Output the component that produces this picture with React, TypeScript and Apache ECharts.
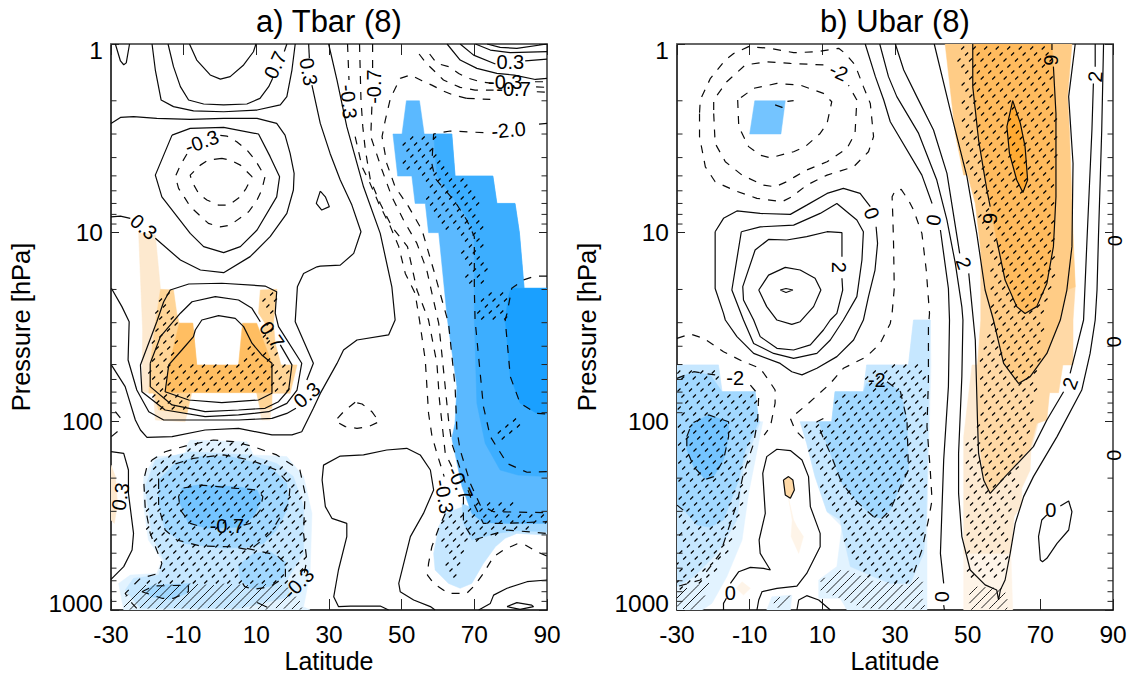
import React, { useEffect, useRef } from "react";
import * as echarts from "echarts";

// All contour and shading outlines are flat lists: latitude, log10(pressure hPa), latitude, log10(pressure hPa), ...
const latitudeTicks = [-30, -10, 10, 30, 50, 70, 90];
const minorPressures = [2, 3, 4, 5, 6, 7, 8, 9, 20, 30, 40, 50, 60, 70, 80, 90, 200, 300, 400, 500, 600, 700, 800, 900];
const panelTitles = ["a) Tbar (8)", "b) Ubar (8)"];

const tbarSolid = [
  [-28.8, 0, -27.4, 0.09, -26.5, 0.11, -25.8, 0.1, -24.9, 0],
  [-18.7, 0, -17.8, 0.138, -16.2, 0.297, -12.8, 0.332, -7.3, 0.354, 1, 0.359, 10.2, 0.35, 16.6, 0.323, 18.4, 0.279, 19.8, 0.138, 20.7, 0],
  [-14.3, 0, -12.8, 0.12, -10.9, 0.226, -8.65, 0.297, -4.5, 0.318, 1, 0.323, 7.4, 0.318, 11, 0.288, 13.4, 0.226, 14.5, 0.182],
  [17.7, 0.04, 18.4, 0],
  [-8.4, 0, -6.4, 0.085, -2.7, 0.164, 0.1, 0.186, 2.8, 0.173, 6.5, 0.111, 9.2, 0.041, 9.9, 0],
  [-30, 0.421, -27.4, 0.389, -23.8, 0.385, -17.4, 0.394, -8.2, 0.4, 1, 0.394, 10.2, 0.394, 15.6, 0.421, 17.9, 0.483, 19.3, 0.58, 20.4, 0.686, 20.2, 0.774, 18.4, 0.898, 13.8, 1.021, 8.3, 1.127, 1, 1.212, -5.4, 1.198, -10.9, 1.145, -17.8, 1.03],
  [-24.7, 0.924, -27.4, 0.912, -30, 0.916],
  [-13.2, 0.483, -17.8, 0.695, -16, 0.81, -8.2, 1.004, -4.5, 1.074, 1, 1.106, 5.6, 1.074, 10.2, 0.986, 15.6, 0.81, 16.4, 0.703, 13.8, 0.597, 10.6, 0.477, 1, 0.442, -8.2, 0.447, -13.2, 0.483],
  [27.6, 0.78, 26.5, 0.845, 28, 0.88, 30.1, 0.862, 29, 0.81, 27.6, 0.78],
  [24.4, 0, 24.6, 0.076],
  [25.3, 0.218, 27.6, 0.421, 30.3, 0.58, 33.1, 0.721, 36.3, 0.854, 38.8, 0.995, 36.8, 1.11, 33.1, 1.172, 27.6, 1.177, 26.7, 1.181, 23, 1.216, 21.3, 1.287, 20.7, 1.472, 25.7, 1.692, 23.9, 1.781],
  [20.9, 1.931, 18.4, 1.958, 14.3, 1.984, 5.1, 1.993, -4.1, 1.993, -15.5, 1.993, -19.6, 1.949, -22.9, 1.834, -25.3, 1.675, -25, 1.472, -27, 1.392, -29.9, 1.295],
  [29.9, 0, 32.2, 0.191, 34.9, 0.438, 39.5, 0.757, 44.1, 1.004, 47.3, 1.287, 48.2, 1.463, 46.4, 1.542, 37.7, 1.569, 34, 1.622, 32.2, 1.693, 27.6, 1.852, 25.7, 1.931, 22.5, 2.055, 19.8, 2.072, 14.3, 2.072, 5.1, 2.037, -4.1, 2.046, -13.2, 2.081, -20.1, 2.085, -21.9, 2.046, -23.3, 1.993, -26.1, 1.816, -29.9, 1.701],
  [-17.4, 1.472, -15.5, 1.366, -13.7, 1.304, -8.6, 1.272, 0.5, 1.268, 12.4, 1.283, 15.6, 1.313, 15.2, 1.427, 16.1, 1.498, 22.5, 1.692, 21.2, 1.834, 18.4, 1.905, 13.4, 1.949, 5.1, 1.966, -4.1, 1.975, -15.1, 1.94, -21.5, 1.843, -21.9, 1.701, -17.4, 1.472],
  [-19.2, 1.692, -16.4, 1.551, -10.9, 1.427, -7.7, 1.366, -1.3, 1.339, 5.1, 1.357, 8.8, 1.401, 11.1, 1.472],
  [16.6, 1.595, 19.8, 1.701, 18.9, 1.834, 16.1, 1.896, 12.4, 1.931, 5.1, 1.94, -4.1, 1.949, -13.2, 1.913, -19.2, 1.816, -19.2, 1.692],
  [-6.8, 1.516, -5, 1.463, -0.4, 1.44, 4.2, 1.454, 6.5, 1.498, 8.8, 1.586, 11.5, 1.648, 14.3, 1.692, 14.3, 1.851, 10.6, 1.887, 0.5, 1.901, -8.6, 1.887, -15.1, 1.843, -14.1, 1.701, -10.5, 1.622, -7.3, 1.551, -6.8, 1.516],
  [-30, 2.161, -26.5, 2.17, -25.2, 2.258, -25.2, 2.382, -23.8, 2.594, -24.2, 2.682, -26.5, 2.77, -30, 2.838],
  [46.4, 3, 44.1, 2.979, 35.9, 2.979, 32.6, 2.982, 31.3, 2.93, 32.6, 2.788, 34.9, 2.611, 34.9, 2.541, 30.8, 2.514, 29, 2.452, 28.1, 2.311, 28.5, 2.232, 33.1, 2.184, 39.5, 2.178, 45.9, 2.152, 51.4, 2.143, 55.1, 2.178, 57.9, 2.258, 58.8, 2.364, 56, 2.488, 52.4, 2.611, 49.2, 2.859, 49.6, 2.903, 53.3, 2.947, 57.9, 2.982, 59.2, 3],
  [71.2, 3, 74.4, 2.965, 75.3, 2.921, 79, 2.885, 84.5, 2.85, 90, 2.841],
  [79, 2.982, 81.7, 2.961, 85.8, 2.974, 86.3, 2.982, 82.6, 2.997, 79, 2.982],
  [73.5, 0, 77.1, 0.018, 81.7, 0.023, 90, 0],
  [70.3, 0, 74.4, 0.032, 79.9, 0.046, 90, 0.04],
  [66.1, 0, 69.8, 0.059, 75.8, 0.106],
  [84, 0.089, 90, 0.08],
  [62.5, 0, 66.1, 0.085, 70.7, 0.129, 76.2, 0.156, 81, 0.165, 86.8, 0.188, 90, 0.182],
  [10.2, 2.96, 13, 2.985],
];

const tbarDashed = [
  [-9.1, 0.583, -10.9, 0.642, -12.3, 0.703, -11.4, 0.765, -9.6, 0.818, -8.2, 0.862, -3.2, 0.951, 0.1, 0.969, 2.8, 0.96, 7.9, 0.889, 10.2, 0.827, 11.5, 0.774, 12.4, 0.703, 9.7, 0.615, 7.4, 0.562, 4.6, 0.518, 1.9, 0.488, -0.4, 0.483],
  [0.5, 0.606, -3.2, 0.615, -5.4, 0.642, -8.2, 0.695, -7.7, 0.73, -5.9, 0.792, -3.6, 0.827, -0.4, 0.854, 2.4, 0.854, 5.6, 0.81, 7.2, 0.765, 8.8, 0.703, 5.6, 0.642, 2.8, 0.615, 0.5, 0.606],
  [37.2, 1.899, 34, 1.949, 31.7, 1.998, 34.5, 2.028, 37.7, 2.037, 40.9, 2.028, 43.8, 2.002, 41.8, 1.949, 39.1, 1.908, 37.2, 1.899],
  [35.1, 0, 35.5, 0.191],
  [37.2, 0.491, 39.1, 0.651, 40.9, 0.721, 43.7, 0.845, 46.9, 0.968, 49.2, 1.074, 51, 1.216, 53.7, 1.322, 54.9, 1.463, 56.5, 1.675, 57.4, 1.958, 58.3, 2.073, 59.7, 2.17, 61.7, 2.293],
  [62, 2.488, 60.2, 2.567, 58.3, 2.665, 57.4, 2.753, 57.1, 2.815, 58.8, 2.859, 62.9, 2.912, 67.9, 2.912, 70.2, 2.868, 72.5, 2.806, 75.3, 2.717, 78, 2.682, 81.7, 2.65, 84, 2.655, 87.2, 2.691, 90, 2.714],
  [38.4, 0, 38.8, 0.297, 39.3, 0.438, 40, 0.562, 41.4, 0.721, 44.1, 0.845, 47.3, 0.968, 51.6, 1.074, 54.2, 1.304, 57.4, 1.463, 59.7, 1.693, 60.4, 1.887, 61.1, 2.011, 62, 2.17, 63.8, 2.24],
  [67, 2.399, 67, 2.541, 69.8, 2.629, 79, 2.576, 90, 2.594],
  [42, 0, 42, 0.138],
  [41.8, 0.332, 41.5, 0.491, 44.6, 0.668, 47.3, 0.81, 50.5, 0.933, 54.2, 1.057, 56.9, 1.198, 60.2, 1.481, 61.7, 1.763, 62.9, 1.993, 63.8, 2.117, 65.9, 2.24, 68.9, 2.399, 72.5, 2.541, 78, 2.541, 90, 2.532],
  [67.9, 0.288, 64.3, 0.271, 61.4, 0.249, 58.3, 0.218, 55.6, 0.195, 52.4, 0.164, 49.6, 0.182, 46.9, 0.288, 45.5, 0.403, 44.6, 0.491, 45.9, 0.633, 48.2, 0.757, 51.9, 0.862, 55.6, 0.986, 58.8, 1.198, 62.9, 1.481, 64.7, 1.816, 65.2, 2.046, 66.1, 2.152, 68.9, 2.329, 71.6, 2.444, 75.3, 2.479, 90, 2.484],
  [67.9, 0.288, 74.4, 0.294],
  [87.2, 0.253, 90, 0.256],
  [57.7, 0.053, 59.7, 0.103, 62.9, 0.12, 65.7, 0.156, 68, 0.179, 71.6, 0.2, 75.3, 0.209],
  [86.7, 0.2, 90, 0.2],
  [54.8, 0.053, 56.8, 0.103, 59.2, 0.147, 61.5, 0.191, 66.1, 0.23, 70.2, 0.244, 75.3, 0.244],
  [87, 0.227, 90, 0.23],
  [90, 0.421, 86.7, 0.426],
  [72.5, 0.47, 63.4, 0.461, 58.8, 0.477, 58.3, 0.633, 59.2, 0.712, 64.7, 0.836, 67.9, 0.933, 70, 1.021, 70, 1.304, 70.2, 1.463, 72.5, 1.922, 74.4, 2.081, 79, 2.223, 84.5, 2.27, 90, 2.267],
  [90, 1.23, 86.7, 1.23, 83.5, 1.251, 80.3, 1.295, 79, 1.428, 78.5, 1.463, 79.9, 1.763, 82.6, 1.904, 87.2, 1.958, 90, 1.961],
  [-22.9, 2.991, -24.2, 2.965, -26.1, 2.912, -21.9, 2.832, -16.9, 2.806, -16, 2.753, -19.2, 2.594, -20.6, 2.452, -21, 2.311, -20.1, 2.24, -18.7, 2.205, -15.1, 2.161, -8.7, 2.126, -1.8, 2.099, 3.7, 2.108, 9.2, 2.134, 15.6, 2.178, 22, 2.258, 23.4, 2.382, 23, 2.594, 23.9, 2.735, 23, 2.824],
  [-16.9, 2.346, -16.9, 2.293, -14.6, 2.24, -7.3, 2.196, 1, 2.178, 8.3, 2.205, 15.6, 2.258, 19.3, 2.338, 18.9, 2.435, 13.8, 2.594, 8.3, 2.682, 3.7, 2.665, -5.4, 2.661, -11.9, 2.629, -15.1, 2.576, -16.9, 2.452, -16.9, 2.346],
  [6.5, 2.55, 8.3, 2.541, 11.1, 2.47, 11.8, 2.399, 10.2, 2.364, 4.6, 2.355, -5.4, 2.338, -10.5, 2.355, -11.4, 2.399, -10.9, 2.47, -8.2, 2.541, -4.5, 2.562],
  [7.4, 2.673, 15.6, 2.709, 18, 2.753, 18, 2.824, 13.8, 2.876, 9.2, 2.891, 6.8, 2.876, 5.1, 2.824],
  [-21.5, 2.903, -18.3, 2.873, -8.7, 2.868, -8.7, 2.903, -12.8, 2.938, -16, 2.938, -21.5, 2.903],
  [-28.8, 1.949, -27, 1.993],
  [-29.9, 2.081, -27.7, 2.046],
];

const ubarSolid = [
  [-19.5, 0.995, -17.2, 0.924, -13.5, 0.885, -7.1, 0.898, 1.2, 0.903, 5.7, 0.854, 11.3, 0.792, 15.8, 0.765, 20.4, 0.792, 23.2, 0.862],
  [24.8, 0.969, 25.2, 1.057, 24.5, 1.198, 22.7, 1.339, 21.3, 1.463, 18.6, 1.569, 14, 1.657, 8.5, 1.719, 4.4, 1.754, 1.6, 1.737, -1.6, 1.693, -8.9, 1.64, -13.5, 1.551, -16.7, 1.463, -17.2, 1.428, -19.5, 1.296, -19.5, 0.995],
  [-12.3, 0.995, -7.1, 0.969, 2.1, 0.96, 9.4, 0.898, 14, 0.845, 19.5, 0.933, 21.3, 0.995, 20.9, 1.145, 19.5, 1.339, 15.8, 1.463, 12.2, 1.569, 8.5, 1.64, 2.1, 1.666, -3.4, 1.64, -8.9, 1.587, -11.7, 1.463, -14.9, 1.304, -12.3, 0.995],
  [15.4, 1.127, 15.4, 1, 11.3, 0.995, 5.7, 1.021, 0.2, 1.039, -4.8, 1.036, -8.5, 1.092, -11.9, 1.286, -11.7, 1.357, -8.9, 1.463, -7.1, 1.551, -2.5, 1.613, 2.1, 1.622, 6.7, 1.595, 10.3, 1.516, 12.2, 1.463, 14, 1.428, 15.6, 1.304, 15.4, 1.242],
  [-7.5, 1.304, -4.8, 1.225, -0.2, 1.184, 3.9, 1.198, 8, 1.242, 9.6, 1.304, 7.6, 1.392, 3.9, 1.472, 1.6, 1.486, -2.5, 1.463, -5.3, 1.392, -7.5, 1.304],
  [-1.6, 1.304, 0, 1.296, 1.9, 1.304, 0, 1.317, -1.6, 1.304],
  [21.8, 0, 24.6, 0.173, 26.9, 0.297, 28.7, 0.412, 37.4, 0.695, 40.2, 0.845],
  [42.5, 0.986, 44.7, 1.296, 45, 1.463, 44.7, 1.816, 43.4, 2.205, 42.5, 2.7, 43.4, 2.859],
  [43.4, 2.974, 43.6, 3],
  [25.8, 0, 28.2, 0.173, 30.5, 0.279, 36.5, 0.474, 41.5, 0.721, 44.3, 0.933, 46.6, 1.163, 48.4, 1.393, 48.7, 1.463, 48.4, 1.763, 47.5, 2.17, 47.5, 2.382, 48.4, 2.611, 50.7, 2.788, 54.8, 2.867, 58, 2.894, 58.5, 2.947, 59, 2.894, 60.3, 2.841, 61.7, 2.7, 63.1, 2.541, 65.4, 2.399, 68.1, 2.293, 74.6, 2.081, 81.4, 1.834, 83.7, 1.64, 85.1, 1.463, 85.6, 1.304, 86, 1.021, 86.9, 0.456, 87.4, 0],
  [30.1, 0, 32.4, 0.138, 36, 0.279, 40.6, 0.456, 44.3, 0.686, 47.8, 1.11],
  [50.3, 1.216, 52.1, 1.569, 52.7, 1.993, 53, 2.17, 54.4, 2.311, 56.2, 2.382, 60.3, 2.293, 68.1, 2.134, 71.8, 1.993, 76.4, 1.843],
  [78.2, 1.746, 79.6, 1.64, 81.9, 1.463, 82.8, 1.057, 84.2, 0.456, 84.6, 0.209],
  [85.1, 0.12, 85.1, 0],
  [40.8, 0, 45.2, 0.35, 49.8, 0.703, 52.5, 1.004, 54.8, 1.304, 57.1, 1.463, 59.9, 1.693, 64, 1.799, 67.2, 1.763, 71.8, 1.64, 75.5, 1.463, 77.3, 1.304, 78.7, 1.074, 79, 0.633, 77.8, 0.279, 79.6, 0],
  [51.4, 0, 51.4, 0.226, 53, 0.509, 55.3, 0.774, 56.2, 0.862],
  [58, 1.039, 60.3, 1.251, 63.5, 1.392, 65.8, 1.428, 69, 1.392, 71.8, 1.269, 73.6, 1.074, 74.3, 0.81, 74.3, 0.368, 73.6, 0.12],
  [73.2, 0.032, 73.2, 0],
  [62.4, 0.3, 60.8, 0.438, 61.5, 0.58, 63.5, 0.721, 65.2, 0.787, 66.5, 0.721, 65.8, 0.544, 64.5, 0.421, 62.4, 0.3],
  [71.8, 2.496, 70.4, 2.523, 69.5, 2.611, 70, 2.735, 70.6, 2.744, 71.8, 2.726, 74.6, 2.647, 77.8, 2.576, 78.7, 2.479, 77.8, 2.422, 75.5, 2.449],
  [-17.2, 3, -17.2, 2.965, -16.4, 2.938],
  [-15.3, 2.859, -13, 2.797, -9.8, 2.774, -6.2, 2.779, -4.3, 2.788, -7.1, 2.7, -7.4, 2.629, -5.7, 2.488, -6.4, 2.276, -5.3, 2.187, -2.5, 2.148, 1.2, 2.155, 4.4, 2.205, 6.2, 2.293, 6.7, 2.452, 9.4, 2.594, 9.4, 2.665, 5.7, 2.806, 3, 2.873, -2.5, 2.885, -6.6, 2.903, -7.5, 2.947, -8, 3],
  [-0.7, 2.311, 0.7, 2.293, 1.9, 2.311, 2.3, 2.364, 1.2, 2.408, -0.2, 2.39, -0.7, 2.311],
  [3, 3, 3.5, 2.947, 5.7, 2.924, 9, 2.947, 12.2, 3],
];

const ubarDashed = [
  [-23.8, 0.368, -23.8, 0.491, -22.2, 0.651, -19.5, 0.73, -14, 0.778, -8, 0.818, -1.1, 0.836, 1.6, 0.81, 5.7, 0.748, 11.3, 0.695, 18.6, 0.651, 22.7, 0.571, 24.1, 0.491, 23.2, 0.315, 21.3, 0.226, 19, 0.111, 16.3, 0.05, 14.5, 0.023, 8.5, 0.041, 2.1, 0.046, -4.3, 0.023, -10.3, 0.014, -14.4, 0.05, -16.7, 0.085, -20.8, 0.182, -23.6, 0.297, -23.8, 0.368],
  [-19.9, 0.368, -19.5, 0.527, -16.7, 0.624, -12.1, 0.695, -6.2, 0.748, -3, 0.757, 0.2, 0.73, 2.5, 0.703, 5.7, 0.668, 11.3, 0.624, 16.8, 0.553, 19, 0.474, 19.5, 0.297, 17.2, 0.218],
  [10.3, 0.111, 1.2, 0.103, -5.3, 0.094, -11.2, 0.111, -16.3, 0.2, -19.9, 0.297, -19.9, 0.368],
  [-13.3, 0.297, -13, 0.438, -10.3, 0.544, -7.1, 0.589, -4.3, 0.603, 2.1, 0.571, 5.3, 0.544, 9.4, 0.474, 11.3, 0.421, 12.6, 0.306, 10.3, 0.262, 3.9, 0.218, -2.5, 0.209, -8.9, 0.235, -13.3, 0.297],
  [-3, 0.323, -1.1, 0.336, -0.2, 0.306, 2.1, 0.3],
  [-30, 1.56, -26.3, 1.537, -22.7, 1.56, -17.2, 1.631, -11.7, 1.684, -7.1, 1.719, -4.8, 1.781, -3, 1.834, -3, 1.904, -4.3, 2.028, -6, 2.073],
  [4.8, 2.09, 2.5, 2.046, 1.2, 1.984, 6.2, 1.904, 12.2, 1.799, 15.8, 1.719, 22.2, 1.657, 25.9, 1.587, 28.7, 1.481, 29.2, 1.428, 29.8, 1.295, 29.6, 1.057, 29.4, 0.915, 29.2, 0.81, 30.1, 0.774, 31.7, 0.771, 33.7, 0.827, 35.1, 0.88, 37.4, 1.004, 38.6, 1.198, 39.5, 1.428, 39.2, 1.498, 39.2, 1.781, 38.8, 2.028, 39.7, 2.258, 40.2, 2.417, 39.2, 2.523, 37.4, 2.682, 35.1, 2.806],
  [-30, 1.772, -25.4, 1.737, -19.5, 1.754],
  [-9.8, 1.808, -7.5, 1.861, -7.8, 1.993, -8.9, 2.117, -11.7, 2.276, -13.5, 2.435, -18.1, 2.7, -23.6, 2.841, -30, 2.876],
  [-27.3, 2.081, -25.9, 2.011, -21.3, 1.966, -15.8, 2.002, -15.8, 2.081, -17.2, 2.205, -19.9, 2.293, -22.2, 2.308, -25.4, 2.24, -27.3, 2.152, -27.3, 2.081],
  [-30, 2.444, -27.7, 2.48],
  [27.8, 1.79, 31.5, 1.843, 33.3, 1.993, 33.7, 2.258, 31.5, 2.346, 28.7, 2.47, 26.4, 2.514, 24.1, 2.506, 19.5, 2.426, 15.4, 2.329, 12.2, 2.17, 10.3, 2.09, 8.5, 2.002, 11.3, 1.975],
];

const tbarWarmPale = [
  [-22.4, 1, -17.8, 1.012, -16.4, 1.295, -17.8, 1.48, -19.2, 1.701, -19.2, 1.851, -21.5, 1.843, -21.3, 1.516],
  [-18.3, 1.851, -17.8, 1.993, -9.6, 2.002, -7.7, 1.851],
  [10.1, 1.848, 11.5, 1.993, 13.8, 1.993, 14.3, 1.851],
  [-30, 2.232, -28.8, 2.293, -28.2, 2.435, -29.1, 2.541, -30, 2.523],
];
const tbarWarmMid = [
  [-16.4, 1.3, -12.8, 1.304, -11.9, 1.427, -11.2, 1.48, -7.5, 1.48, -6.4, 1.701, -14.1, 1.701, -15.1, 1.848, -19.6, 1.851, -19.2, 1.692, -17.8, 1.48],
  [11.1, 1.304, 15.7, 1.3, 14.7, 1.48, 15.2, 1.586, 16.8, 1.701, 21.2, 1.701, 19.3, 1.851, 14.3, 1.851, 14.3, 1.692, 10.1, 1.586, 12.4, 1.48, 10.6, 1.427],
  [-18.3, 1.848, -16.9, 1.94, -9.1, 1.957, -7.9, 1.848],
  [10.1, 1.848, 11.1, 1.931, 14.3, 1.931, 14.3, 1.848],
];
const tbarWarmStrong = [[-11.2, 1.48, -7.5, 1.48, -6.4, 1.701, 5.1, 1.701, 6.2, 1.48, 10.1, 1.48, 14.3, 1.692, 14.3, 1.848, -15.1, 1.848, -14, 1.701]];
const tbarCool1 = [[-9.1, 2.126, -8.2, 2.099, 7.4, 2.108, 9.2, 2.178, 18.4, 2.187, 23, 2.293, 25.3, 2.488, 24.8, 2.806, 23, 2.983, 24.8, 3, -26.5, 3, -27.9, 2.859, -24.7, 2.815, -17.4, 2.806, -16, 2.735, -19.7, 2.629, -21, 2.452, -21, 2.293, -17.8, 2.187, -9.6, 2.178]];
const tbarCool2 = [
  [-20.6, 2.346, -17.8, 2.205, -8.2, 2.161, 8.3, 2.178, 15.6, 2.223, 20.2, 2.293, 23, 2.452, 23, 2.7, 18.4, 2.841, 19.3, 2.93, 5.6, 2.991, -21.9, 2.991, -26.1, 2.894, -23.8, 2.832, -16.9, 2.815, -15.5, 2.735, -18.7, 2.611],
  [62, 2.488, 60.2, 2.559, 58.8, 2.7, 59.2, 2.788, 62.9, 2.859, 66.1, 2.885, 69.3, 2.859, 72.5, 2.753, 75.8, 2.665, 78.5, 2.62, 81.7, 2.594, 90, 2.603, 90, 2.505, 67, 2.452],
];
const tbarCool3 = [
  [-16.9, 2.311, -11.9, 2.214, -5.4, 2.187, 2.8, 2.187, 13.8, 2.24, 18.4, 2.329, 18.9, 2.452, 15.6, 2.576, 12, 2.647, 7.4, 2.668, 1, 2.673, -10, 2.647, -15.1, 2.576, -16.9, 2.435],
  [5.1, 2.762, 9.2, 2.7, 13.8, 2.691, 18, 2.744, 17.5, 2.824, 13.8, 2.876, 8.3, 2.885, 5.6, 2.841],
  [-21, 2.894, -18.3, 2.868, -8.2, 2.859, -9.1, 2.912, -13.7, 2.944, -19.2, 2.93],
  [66.6, 2.435, 67, 2.541, 69.3, 2.629, 76.2, 2.594, 81.7, 2.58, 90, 2.585, 90, 2.505, 70.7, 2.47],
];
const tbarCool4 = [[-11.4, 2.417, -10.5, 2.355, -6.4, 2.338, 4.6, 2.346, 10.2, 2.364, 11.5, 2.417, 9.2, 2.505, 5.6, 2.562, -3.6, 2.567, -8.7, 2.541]];
const tbarCool5 = [[51.3, 0.301, 54.9, 0.301, 56.2, 0.477, 63.8, 0.477, 64.7, 0.7, 75.1, 0.7, 76.2, 0.845, 81.2, 0.845, 82.4, 1, 83.7, 1.295, 90, 1.295, 90, 2.541, 79, 2.541, 72.5, 2.537, 69.3, 2.488, 66.6, 2.346, 63.8, 2.09, 64.7, 2.011, 65.2, 1.816, 62.6, 1.463, 60.2, 1, 57.4, 1, 56.5, 0.845, 53.7, 0.845, 52.8, 0.7, 48.9, 0.7, 47.6, 0.477, 50.1, 0.477]];
const tbarCool6 = [[58.8, 0.477, 63.8, 0.477, 64.7, 0.7, 75.1, 0.7, 76.2, 0.845, 81.2, 0.845, 82.4, 1, 83.7, 1.295, 90, 1.295, 90, 2.293, 82, 2.285, 77.1, 2.258, 73, 2.117, 70.7, 1.904, 70, 1.463, 70, 1.021, 67.9, 0.916, 59.7, 0.7]];
const tbarCool7 = [[80.1, 1.295, 90, 1.295, 90, 1.961, 87.2, 1.958, 82.6, 1.904, 79.9, 1.763, 78.5, 1.463, 79.4, 1.339]];

const ubarWarm0 = [
  [48.9, 2.7, 48.9, 3, 62.4, 3, 61.9, 2.7],
  [-12.1, 2.85, -9.8, 2.885, -11.7, 2.921, -13.7, 2.885],
  [0.7, 2.408, 2.1, 2.523, 3, 2.558, 4.8, 2.611, 3.5, 2.7, 1.4, 2.611, 1.7, 2.523],
];
const ubarWarm1 = [[48.9, 2.7, 61.9, 2.7, 62.8, 2.505, 64.9, 2.444, 64.9, 2.355, 67.2, 2.258, 67.4, 2.161, 69.5, 2.002, 71.3, 1.993, 72.5, 1.852, 74.6, 1.701, 51.2, 1.701, 48.9, 2.081]];
const ubarWarm2 = [
  [53.6, 1.074, 53.6, 1.463, 52.7, 1.701, 52.7, 1.993, 54.4, 2.311, 56.2, 2.382, 60.3, 2.293, 67.2, 2.143, 69, 2.011, 71.8, 1.993, 72.5, 1.848, 75, 1.848, 76.2, 1.701, 79, 1.701, 79, 1.463, 79.6, 1.287, 78.7, 1.004],
  [-0.7, 2.311, 0.7, 2.293, 1.9, 2.311, 2.3, 2.364, 1.2, 2.408, -0.2, 2.39],
];
const ubarWarm3 = [[43.8, 0, 78.7, 0, 77.5, 0.279, 78, 0.456, 79, 1.004, 79.6, 1.287, 77.3, 1.304, 75.5, 1.463, 71.8, 1.64, 67.2, 1.763, 64, 1.799, 59.9, 1.693, 57.1, 1.463, 54.8, 1.304, 53.5, 1.074, 52.1, 0.845, 50, 0.695, 48.9, 0.695, 46.6, 0.477]];
const ubarWarm4 = [[51.4, 0, 51.4, 0.226, 53, 0.509, 55.3, 0.774, 56.2, 0.862, 58, 1.039, 60.3, 1.251, 63.5, 1.392, 65.8, 1.428, 69, 1.392, 71.8, 1.269, 73.6, 1.074, 74.3, 0.81, 74.3, 0.368, 73.6, 0.12, 73.2, 0]];
const ubarWarm5 = [[62.4, 0.3, 60.8, 0.438, 61.5, 0.58, 63.5, 0.721, 65.2, 0.787, 66.5, 0.721, 65.8, 0.544, 64.5, 0.421]];
const ubarCool1 = [
  [-30, 1.701, -18.6, 1.701, -17.6, 1.843, -8.5, 1.843, -7.4, 2.002, -6.4, 2.002, -10.3, 2.382, -12.1, 2.629, -16.3, 2.824, -20.4, 2.965, -23.1, 3, -30, 3],
  [3.9, 2.002, 12.6, 2.002, 13.5, 1.843, 21.3, 1.843, 22.2, 1.701, 33.7, 1.701, 35.1, 1.463, 39.7, 1.463, 39.9, 1.701, 38.8, 2.523, 38.8, 3, 16.8, 3, 14.9, 2.938, 9, 2.938, 9, 2.841, 14, 2.77, 15.4, 2.558, 11.3, 2.479, 8, 2.293, 5.7, 2.117],
  [-3.9, 2.93, 1.6, 2.921, 1.2, 3, -5.3, 3],
];
const ubarCool2 = [
  [-30, 1.701, -18.6, 1.701, -17.6, 1.843, -8.5, 1.843, -7.5, 2.002, -7.1, 2.002, -11.7, 2.24, -13.5, 2.523, -19, 2.7, -25.4, 2.824, -30, 2.876],
  [3.9, 2.002, 12.6, 2.002, 13.5, 1.843, 21.3, 1.843, 22.2, 1.701, 33.7, 1.701, 35.1, 1.463, 39.7, 1.463, 39.5, 1.701, 38.6, 2.523, 37.9, 2.7, 34.2, 2.859, 28.7, 2.859, 24.1, 2.824, 17.7, 2.77, 15.8, 2.611, 14.9, 2.523, 11.3, 2.479, 8, 2.293, 5.7, 2.117],
];
const ubarCool3 = [
  [-30, 1.772, -25.4, 1.737, -20.8, 1.754, -17.6, 1.843, -8.5, 1.843, -7.5, 2.002, -11.2, 2.152, -13, 2.311, -17.2, 2.523, -20.8, 2.562, -24.5, 2.55, -27.7, 2.479, -30, 2.444],
  [9, 2.002, 12.6, 2.002, 13.5, 1.843, 21.3, 1.843, 22.2, 1.799, 27.8, 1.795, 31.5, 1.843, 33.3, 1.993, 33.7, 2.258, 31.5, 2.346, 28.7, 2.47, 26.4, 2.514, 24.1, 2.506, 19.5, 2.426, 15.4, 2.329, 12.2, 2.17],
];
const ubarCool4 = [
  [-27.3, 2.081, -25.9, 2.011, -21.3, 1.966, -15.8, 2.002, -15.8, 2.081, -17.2, 2.205, -19.9, 2.293, -22.2, 2.308, -25.4, 2.24, -27.3, 2.152],
  [-8.6, 0.301, -0.2, 0.301, -1.4, 0.477, -10, 0.477],
];

const tbarStipple = [
  [-16.9, 1.304, -14.1, 1.304, -11.4, 1.48, -10.5, 1.586, -13.7, 1.701, 6.5, 1.701, 7.9, 1.551, 11.5, 1.648, 12.4, 1.48, 11.1, 1.304, 15.7, 1.304, 14.7, 1.48, 16.1, 1.692, 19.3, 1.701, 18.9, 1.843, 14.3, 1.851, -7.7, 1.851, -9.6, 1.957, -16.9, 1.949, -19.2, 1.851, -19.6, 1.692],
  [-8.2, 2.108, 7.4, 2.108, 9.2, 2.178, 19.3, 2.24, 23, 2.382, 23.9, 2.735, 21, 2.859, -24.2, 2.859, -16.9, 2.824, -16, 2.753, -19.7, 2.629, -21, 2.346, -18.3, 2.205, -9.6, 2.161],
  [49.6, 0.483, 59.2, 0.483, 60.8, 0.642, 64.7, 0.703, 69.3, 0.703, 69.3, 0.765, 71.6, 0.88, 72.5, 1.074, 73.5, 1.198, 73.5, 1.287, 67.5, 1.295, 66.6, 1.127, 66.1, 0.986, 60.6, 0.995, 56.9, 0.81, 56.9, 0.703, 51, 0.668],
  [70.2, 1.339, 72.5, 1.313, 79.9, 1.313, 78.5, 1.472, 71.6, 1.472],
  [75.8, 2.028, 81.7, 1.966, 83.5, 2.028, 77.1, 2.099],
  [70.7, 2.417, 80.3, 2.408, 80.3, 2.479, 90, 2.488, 90, 2.541, 79, 2.594, 68.9, 2.638, 65.7, 2.832, 64.3, 2.832, 60.6, 2.682, 60.6, 2.558, 62.4, 2.488, 67, 2.47],
];
const tbarDenseHatch = [[-27, 3, -26.1, 2.93, -21.9, 2.859, 18.4, 2.859, 22, 2.95, 24, 3]];
const ubarStipple = [
  [47, 0, 73.6, 0, 74.3, 0.456, 74.3, 0.81, 73.6, 1.233, 70.9, 1.463, 69.5, 1.799, 68.1, 1.975, 65.4, 2.17, 64, 2.355, 60.8, 2.55, 61.3, 2.665, 60.3, 2.85, 50.7, 2.824, 49.3, 2.77, 48.9, 2.134, 53, 1.993, 53, 1.693, 56.2, 1.463, 56.2, 1.163, 52.1, 0.845, 50.7, 0.695, 48.4, 0.456, 47.5, 0.103],
  [-30, 1.71, -19, 1.728, -17.6, 1.852, -8.5, 1.852, -7.1, 2.002, -9.8, 2.17, -11.7, 2.452, -16.3, 2.7, -20.8, 2.841, -30, 2.894],
  [4.4, 2.011, 8.5, 2.002, 13.1, 2.002, 13.5, 1.852, 21.3, 1.843, 22.7, 1.71, 38.8, 1.701, 38.3, 2.523, 36.9, 2.7, 34.2, 2.859, 24.1, 2.841, 16.8, 2.735, 15.4, 2.541, 12.2, 2.488, 8.5, 2.293, 5.7, 2.117],
];
const ubarDenseHatch = [
  [49.9, 2.894, 51.6, 2.867, 60.3, 2.876, 61.5, 3, 50.2, 3],
  [-30, 2.894, -20.8, 2.841, -22.2, 2.93, -26.3, 3, -30, 3],
  [-3.4, 2.93, 1.2, 2.921, 0.2, 2.997, -3.9, 2.997],
  [9, 2.912, 9.4, 2.841, 14.9, 2.779, 20.4, 2.806, 24.1, 2.841, 34.2, 2.859, 37.9, 2.806, 38.3, 3, 22.2, 3, 14.9, 2.938],
];

const tbarLabels: [string, number, number, number][] = [
  ["0.7", 15.2, 0.111, 65], ["0.3", 24.4, 0.147, -80], ["-0.3", -5, 0.518, 20], ["0.3", -21, 0.969, -40],
  ["0.7", 14.3, 1.542, -55], ["0.3", 23.9, 1.86, 40], ["0.3", -27.4, 2.399, 80], ["-0.7", 1.9, 2.555, 0],
  ["-0.3", 21.6, 2.859, 45], ["-0.3", 35.4, 0.306, -85], ["-0.7", 42.3, 0.226, 90], ["0.3", 79.9, 0.097, 0],
  ["-0.3", 78.5, 0.2, 0], ["-0.7", 80.8, 0.24, 0], ["-2.0", 79.4, 0.456, 5], ["-0.7", 66.1, 2.329, -65], ["-0.3", 61.7, 2.399, -80],
];
const ubarLabels: [string, number, number, number][] = [
  ["-2", 14.5, 0.147, -25], ["0", 23.6, 0.898, -70], ["2", 14.5, 1.184, -90], ["2", 85.1, 0.173, 85], ["6", 72.9, 0.085, -90],
  ["0", 40.6, 0.933, 80], ["6", 56.2, 0.924, -90], ["2", 48.9, 1.163, -70], ["0", 90.6, 1.043, 90], ["0", 90.3, 1.578, 90],
  ["0", 90.3, 2.179, 90], ["2", 78.2, 1.799, 70], ["0", 42.9, 2.93, 90], ["0", 72.9, 2.47, 0], ["-2", -14, 1.772, 0],
  ["-2", 25, 1.781, 0], ["0", -15.3, 2.912, 0],
];

const FONT = "'Liberation Sans', Arial, sans-serif";
const pairs = (flat: number[]) => {
  const out: number[][] = [];
  for (let i = 0; i + 1 < flat.length; i += 2) out.push([flat[i], Math.pow(10, flat[i + 1])]);
  return out;
};
const inside = (pt: number[], poly: number[][]) => {
  let c = false;
  for (let i = 0, j = poly.length - 1; i < poly.length; j = i++) {
    const a = poly[i], b = poly[j];
    if (a[1] > pt[1] !== b[1] > pt[1] && pt[0] < ((b[0] - a[0]) * (pt[1] - a[1])) / (b[1] - a[1]) + a[0]) c = !c;
  }
  return c;
};
const boxOf = (poly: number[][]) => {
  const xs = poly.map((p) => p[0]), ys = poly.map((p) => p[1]);
  return [Math.min(...xs), Math.max(...xs), Math.min(...ys), Math.max(...ys)];
};
const stipplePath = (poly: number[][]) => {
  const [x0, x1, y0, y1] = boxOf(poly);
  const dx = 11.5, dy = 6, shift = 3.9;
  let d = "";
  for (let j = Math.floor(y0 / dy); j * dy <= y1; j++) {
    const y = j * dy;
    const off = ((j * shift) % dx + dx) % dx;
    for (let i = Math.floor(x0 / dx) - 1; i * dx + off <= x1; i++) {
      const x = i * dx + off;
      if (inside([x, y], poly)) d += `M${(x - 1.5).toFixed(1)} ${(y + 1.5).toFixed(1)}L${(x + 1.5).toFixed(1)} ${(y - 1.5).toFixed(1)}`;
    }
  }
  return d;
};
const densePath = (poly: number[][]) => {
  const [x0, x1, y0, y1] = boxOf(poly);
  const gap = 8.5, step = 2;
  let d = "";
  for (let c = Math.floor((x0 + y0) / gap) * gap; c <= x1 + y1; c += gap) {
    let open = false;
    for (let x = x0; x <= x1; x += step) {
      const y = c - x;
      const ok = y >= y0 && y <= y1 && inside([x, y], poly);
      if (ok) d += `${open ? "L" : "M"}${x.toFixed(1)} ${y.toFixed(1)}`;
      open = ok;
    }
  }
  return d;
};

const fillSeries = (list: number[][], color: string, idx: number, z: number) => ({
  type: "custom", xAxisIndex: idx, yAxisIndex: idx, silent: true, z, clip: true,
  data: list.map((pts, i) => [pts[0], Math.pow(10, pts[1]), i]),
  renderItem: (_: any, api: any) => ({
    type: "polygon",
    shape: { points: pairs(list[api.value(2)]).map((p) => api.coord(p)) },
    style: { fill: color, stroke: color, lineWidth: 0.5 },
  }),
});
const hatchSeries = (list: number[][], maker: (p: number[][]) => string, idx: number, width: number) => ({
  type: "custom", xAxisIndex: idx, yAxisIndex: idx, silent: true, z: 3, clip: true,
  data: list.map((pts, i) => [pts[0], Math.pow(10, pts[1]), i]),
  renderItem: (_: any, api: any) => ({
    type: "path",
    shape: { pathData: maker(pairs(list[api.value(2)]).map((p) => api.coord(p))) || "M0 0" },
    style: { fill: null, stroke: "#000", lineWidth: width },
  }),
});
const lineSeries = (list: number[][], dashed: boolean, idx: number) =>
  list.map((pts) => ({
    type: "line", xAxisIndex: idx, yAxisIndex: idx, silent: true, z: 4, symbol: "none", showSymbol: false,
    data: pairs(pts),
    lineStyle: { color: "#0a0a0a", width: 1.2, type: dashed ? [8, 8] : "solid" },
  }));
const labelSeries = (list: [string, number, number, number][], idx: number) => ({
  type: "custom", xAxisIndex: idx, yAxisIndex: idx, silent: true, z: 6, clip: false,
  data: list.map((l, i) => [l[1], Math.pow(10, l[2]), i]),
  renderItem: (_: any, api: any) => {
    const l = list[api.value(2)];
    const [x, y] = api.coord([l[1], Math.pow(10, l[2])]);
    return {
      type: "text", x, y, rotation: (l[3] * Math.PI) / 180,
      style: { text: l[0], fontSize: 20, fontFamily: FONT, fill: "#000", align: "center", verticalAlign: "middle" },
    };
  },
});
const minorTickSeries = (idx: number) => ({
  type: "custom", xAxisIndex: idx, yAxisIndex: idx, silent: true, z: 5, clip: false,
  data: minorPressures.map((p) => [-30, p]),
  renderItem: (_: any, api: any) => {
    const p = api.value(1);
    const [xl, y] = api.coord([-30, p]);
    const [xr] = api.coord([90, p]);
    return {
      type: "group",
      children: [
        { type: "line", shape: { x1: xl, y1: y, x2: xl + 5.5, y2: y }, style: { stroke: "#222", lineWidth: 1 } },
        { type: "line", shape: { x1: xr, y1: y, x2: xr - 5.5, y2: y }, style: { stroke: "#222", lineWidth: 1 } },
      ],
    };
  },
});

const xAxisFor = (grid: number, position: string) => ({
  type: "value", gridIndex: grid, position, min: -30, max: 90,
  name: position === "bottom" ? "Latitude" : "",
  nameLocation: "middle", nameGap: 38, nameMoveOverlap: false,
  nameTextStyle: { fontSize: 25, fontFamily: FONT, color: "#000" },
  splitLine: { show: false },
  axisLine: { onZero: false, lineStyle: { color: position === "bottom" ? "#000" : "#666", width: position === "bottom" ? 1.5 : 2 } },
  axisTick: { show: true, inside: true, length: 11, customValues: latitudeTicks, lineStyle: { color: "#222", width: 1 } },
  axisLabel: position === "bottom"
    ? { show: true, customValues: latitudeTicks, fontSize: 24.5, fontFamily: FONT, color: "#000", margin: 12 }
    : { show: false },
});
const yAxisFor = (grid: number, position: string) => ({
  type: "log", logBase: 10, gridIndex: grid, position, min: 1, max: 1000, inverse: true,
  name: position === "left" ? "Pressure [hPa]" : "",
  nameLocation: "middle", nameGap: 77, nameRotate: 90,
  nameTextStyle: { fontSize: 25.5, fontFamily: FONT, color: "#000" },
  splitLine: { show: false }, minorTick: { show: false }, minorSplitLine: { show: false },
  axisLine: { onZero: false, lineStyle: { color: position === "left" ? "#000" : "#666", width: position === "left" ? 1.5 : 2 } },
  axisTick: { show: true, inside: true, length: 8, lineStyle: { color: "#222", width: 1 } },
  axisLabel: position === "left"
    ? { show: true, fontSize: 24.5, lineHeight: 13, fontFamily: FONT, color: "#000", margin: 8, verticalAlignMinLabel: "top", verticalAlignMaxLabel: "bottom", formatter: (v: number) => String(Math.round(v)) }
    : { show: false },
});

export default function App() {
  const ref = useRef<HTMLDivElement>(null);
  useEffect(() => {
    const chart = echarts.init(ref.current!, undefined, { renderer: "svg" });
    const panelA = [
      fillSeries(tbarWarmPale, "#FDE9CF", 0, 1), fillSeries(tbarWarmMid, "#FFD597", 0, 1), fillSeries(tbarWarmStrong, "#FFBE62", 0, 1),
      fillSeries(tbarCool1, "#E2F3FF", 0, 1), fillSeries(tbarCool2, "#C6E7FF", 0, 1), fillSeries(tbarCool3, "#A2D8FF", 0, 1),
      fillSeries(tbarCool4, "#74C4FF", 0, 1), fillSeries(tbarCool5, "#5BB9FF", 0, 1), fillSeries(tbarCool6, "#3CAEFF", 0, 1), fillSeries(tbarCool7, "#1AA0FF", 0, 1),
      hatchSeries(tbarStipple, stipplePath, 0, 1.15), hatchSeries(tbarDenseHatch, densePath, 0, 0.9),
      ...lineSeries(tbarSolid, false, 0), ...lineSeries(tbarDashed, true, 0),
      labelSeries(tbarLabels, 0), minorTickSeries(0),
    ];
    const panelB = [
      fillSeries(ubarWarm0, "#FEF4E8", 2, 1), fillSeries(ubarWarm1, "#FDEAD2", 2, 1), fillSeries(ubarWarm2, "#FFD9A6", 2, 1),
      fillSeries(ubarWarm3, "#FFCC86", 2, 1), fillSeries(ubarWarm4, "#FFBB5E", 2, 1), fillSeries(ubarWarm5, "#FFAA33", 2, 1),
      fillSeries(ubarCool1, "#E2F3FF", 2, 1), fillSeries(ubarCool2, "#C6E7FF", 2, 1), fillSeries(ubarCool3, "#A2D8FF", 2, 1), fillSeries(ubarCool4, "#74C4FF", 2, 1),
      hatchSeries(ubarStipple, stipplePath, 2, 1.15), hatchSeries(ubarDenseHatch, densePath, 2, 0.9),
      ...lineSeries(ubarSolid, false, 2), ...lineSeries(ubarDashed, true, 2),
      labelSeries(ubarLabels, 2), minorTickSeries(2),
    ];
    chart.setOption({
      animation: false,
      backgroundColor: "#fff",
      title: panelTitles.map((text, i) => ({
        text, left: i === 0 ? 324 : 890, top: 1, textAlign: "center",
        textStyle: { fontSize: 31, fontWeight: "normal", fontFamily: FONT, color: "#000" },
      })),
      grid: [
        { left: 111, top: 44, width: 436, height: 566, outerBoundsMode: "none" },
        { left: 677, top: 44, width: 436, height: 566, outerBoundsMode: "none" },
      ],
      // Axis pairs: 0 and 1 share the first grid (bottom/left and top/right), 2 and 3 the second.
      xAxis: [xAxisFor(0, "bottom"), xAxisFor(0, "top"), xAxisFor(1, "bottom"), xAxisFor(1, "top")],
      yAxis: [yAxisFor(0, "left"), yAxisFor(0, "right"), yAxisFor(1, "left"), yAxisFor(1, "right")],
      series: [...panelA, ...panelB],
    });
    return () => chart.dispose();
  }, []);
  return <div ref={ref} style={{ position: "fixed", left: 0, top: 0, width: 1136, height: 675, background: "#fff" }} />;
}
